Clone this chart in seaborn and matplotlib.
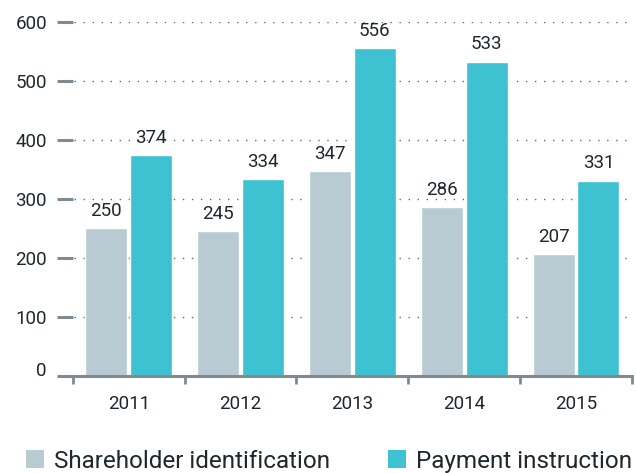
import pandas as pd
import matplotlib
matplotlib.use("Agg")
import matplotlib.pyplot as plt
import matplotlib.transforms as mtransforms
import seaborn as sns
from matplotlib.patches import Patch
from matplotlib.ticker import FixedLocator

years = ["2011", "2012", "2013", "2014", "2015"]
shareholder_id = [250, 245, 347, 286, 207]
payment_instr = [374, 334, 556, 533, 331]
series_names = ["Shareholder identification", "Payment instruction"]
colors = ["#b8cbd3", "#3ec1d0"]
y_ticks = [0, 100, 200, 300, 400, 500, 600]

df = pd.DataFrame({
    "year": years * 2,
    "value": shareholder_id + payment_instr,
    "series": [series_names[0]] * len(years) + [series_names[1]] * len(years),
})

sns.set_style("white")
plt.rcParams["font.family"] = ["Roboto", "DejaVu Sans"]
text_color = "#1e272c"
axis_grey = "#7f8b92"

fig = plt.figure(figsize=(6.36, 4.73), dpi=100)
ax = fig.add_axes([65 / 636, 97 / 473, 567 / 636, 354 / 473])

sns.barplot(data=df, x="year", y="value", hue="series", palette=colors,
            width=0.8, gap=0.06, legend=False, ax=ax, saturation=1)

for c in ax.containers:
    ax.bar_label(c, padding=6, fontsize=13.5, color=text_color)

ax.set_xlim(-0.57, 4.5)
ax.set_ylim(0, 600)
ax.set_yticks(y_ticks)
ax.set_xlabel("")
ax.set_ylabel("")

# dotted gridlines
ax.yaxis.grid(True, linestyle=(0, (1, 5.5)), color="#666666", linewidth=1)
ax.set_axisbelow(True)

for s in ["left", "right", "top"]:
    ax.spines[s].set_visible(False)
ax.spines["bottom"].set_color(axis_grey)
ax.spines["bottom"].set_linewidth(2.2)

ax.tick_params(axis="y", left=True, direction="inout", length=12, width=2.2,
               color=axis_grey, pad=7, labelsize=13.5, labelcolor=text_color)
ax.tick_params(axis="x", which="major", bottom=True, length=0, pad=14,
               labelsize=13.5, labelcolor=text_color)
ax.xaxis.set_minor_locator(FixedLocator([-0.5, 0.5, 1.5, 2.5, 3.5, 4.5]))
ax.tick_params(axis="x", which="minor", bottom=True, direction="out",
               length=6, width=2, color=axis_grey)

# the zero label sits a little above the baseline in the original
zero_lab = ax.get_yticklabels()[0]
zero_lab.set_transform(zero_lab.get_transform() +
                       mtransforms.ScaledTranslation(0, 0.07, fig.dpi_scale_trans))

handles = [Patch(facecolor=c, edgecolor="none") for c in colors]
fig.legend(handles, series_names, loc="center left",
           bbox_to_anchor=(26 / 636, 12 / 473), ncol=2, frameon=False,
           fontsize=17.5, handlelength=0.72, handleheight=0.72,
           handletextpad=0.42, columnspacing=2.4, borderpad=0,
           borderaxespad=0, labelcolor=text_color)

fig.savefig("out.png", dpi=100)
